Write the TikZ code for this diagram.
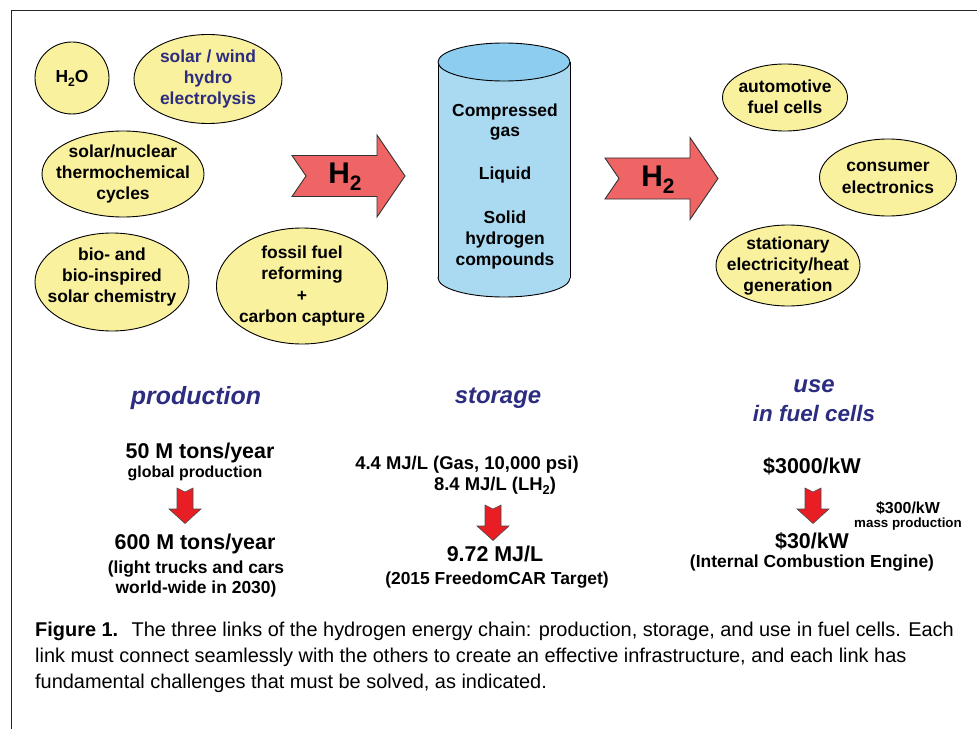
\documentclass[tikz,border=0pt]{standalone}
\usepackage{fontspec}
\setmainfont{Liberation Sans}
\usepackage{graphicx}
\usepackage{tikz}
\usepackage{xcolor}
\definecolor{blobyellow}{RGB}{249,241,158}
\definecolor{arrowsalmon}{RGB}{239,100,100}
\definecolor{arrowred}{RGB}{232,30,36}
\definecolor{tankblue}{RGB}{170,218,242}
\definecolor{tanktop}{RGB}{140,205,240}
\definecolor{linkblue}{RGB}{44,44,128}
\newcommand\lowsub[1]{\raisebox{-0.22em}{\scalebox{0.7}{#1}}}

\begin{document}
\begin{tikzpicture}
    \tikzset{
        x=1bp, y=-1bp,
        blob/.style={draw=black, fill=blobyellow, line width=0.9bp},
        blobtext/.style={align=center, inner sep=0pt,
            font=\fontsize{17.5}{21.5}\selectfont\bfseries},
        bigarrow/.style={draw=black!80, fill=arrowsalmon, line width=0.9bp},
        downarrow/.style={draw=black!70, fill=arrowred, line width=0.6bp},
        h2text/.style={inner sep=0pt, font=\fontsize{30}{34}\selectfont\bfseries},
        tanktext/.style={align=center, inner sep=0pt,
            font=\fontsize{17.5}{21}\selectfont\bfseries},
        headtext/.style={inner sep=0pt, text=linkblue,
            font=\fontsize{24}{28}\selectfont\bfseries\itshape},
        bigtext/.style={inner sep=0pt, font=\fontsize{21.5}{26}\selectfont\bfseries},
        gastext/.style={inner sep=0pt, font=\fontsize{18.5}{22}\selectfont\bfseries},
        midtext/.style={align=center, inner sep=0pt,
            font=\fontsize{17.5}{21}\selectfont\bfseries},
        smalltext/.style={inner sep=0pt, font=\fontsize{16}{19}\selectfont\bfseries},
        tinytext/.style={inner sep=0pt, font=\fontsize{13.4}{16}\selectfont\bfseries},
        captext/.style={anchor=base west, inner sep=0pt, font=\fontsize{20}{26}\selectfont}
    }
    \useasboundingbox (0,0) rectangle (977,729);
    \draw[line width=1bp, black!85] (11,729) -- (11,11) -- (977,11);

    % sources
    \draw[blob] (72,78) ellipse [x radius=37, y radius=36];
    \node[blobtext] (water) at (72,78) {H\lowsub{2}O};
    \draw[blob] (208,79) ellipse [x radius=74, y radius=44.5];
    \node[blobtext, text=linkblue] (electro) at (208,79) {solar / wind\\hydro\\electrolysis};
    \draw[blob] (123,174) ellipse [x radius=81, y radius=43];
    \node[blobtext] (thermo) at (123,174) {solar/nuclear\\thermochemical\\cycles};
    \draw[blob] (112,282) ellipse [x radius=77, y radius=49];
    \node[blobtext] (bio) at (112,277) {bio- and\\bio-inspired\\solar chemistry};
    \draw[blob] (302,286) ellipse [x radius=85.5, y radius=58];
    \node[blobtext] (fossil) at (302,286) {fossil fuel\\reforming\\+\\carbon capture};

    % uses
    \draw[blob] (785,97.5) ellipse [x radius=62.5, y radius=33.5];
    \node[blobtext] (auto) at (785,97) {automotive\\fuel cells};
    \draw[blob] (888,177.5) ellipse [x radius=68.5, y radius=38.5];
    \node[blobtext] (consumer) at (888,178) {consumer\\electronics};
    \draw[blob] (788,265.5) ellipse [x radius=72, y radius=40.5];
    \node[blobtext] (stationary) at (788,266) {stationary\\electricity/heat\\generation};

    % H2 arrows
    \draw[bigarrow] (292,155.5) -- (377,155.5) -- (377,135) -- (405,176) -- (377,217)
        -- (377,196.5) -- (292,196.5) -- (306,176) -- cycle;
    \node[h2text] (h2in) at (345,177) {H\lowsub{2}};
    \draw[bigarrow] (605,158) -- (690,158) -- (690,137.5) -- (718,178.5) -- (690,219.5)
        -- (690,199) -- (605,199) -- (619,178.5) -- cycle;
    \node[h2text] (h2out) at (658,179.5) {H\lowsub{2}};

    % tank
    \filldraw[fill=tankblue, line width=0.9bp] (504,278) ellipse [x radius=66, y radius=19];
    \fill[tankblue] (438,62) rectangle (570,278);
    \draw[line width=0.9bp] (438,62) -- (438,278) (570,62) -- (570,278);
    \filldraw[fill=tanktop, line width=0.9bp] (504,62) ellipse [x radius=66, y radius=19];
    \node[tanktext] (gas) at (505,122) {Compressed\\gas};
    \node[tanktext] (liquid) at (505,175) {Liquid};
    \node[tanktext] (solid) at (505,240) {Solid\\hydrogen\\compounds};

    % the three links
    \node[headtext, font=\fontsize{25}{28}\selectfont\bfseries\itshape] (prodhead) at (196,398) {production};
    \node[headtext] (storhead) at (498,398) {storage};
    \node[headtext] (usehead) at (814,386) {use};
    \node[headtext, font=\fontsize{22.5}{28}\selectfont\bfseries\itshape] (usehead2) at (814,413) {in fuel cells};

    \node[bigtext] (prodnow) at (200,453) {50 M tons/year};
    \node[smalltext] (prodnote) at (195,473) {global production};
    \node[bigtext] (prodgoal) at (195,544) {600 M tons/year};
    \node[midtext] (prodgoalnote) at (196,579) {(light trucks and cars\\world-wide in 2030)};

    \node[gastext] (storgas) at (467,465) {4.4 MJ/L (Gas, 10,000 psi)};
    \node[gastext] (storliq) at (495,486) {8.4 MJ/L (LH\lowsub{2})};
    \node[bigtext] (storgoal) at (495,554) {9.72 MJ/L};
    \node[midtext] (storgoalnote) at (497,580) {(2015 FreedomCAR Target)};

    \node[bigtext] (usenow) at (812,466) {\$3000/kW};
    \node[smalltext] (usemass) at (908,508) {\$300/kW};
    \node[tinytext] (usemassnote) at (908,524) {mass production};
    \node[bigtext] (usegoal) at (812,541) {\$30/kW};
    \node[midtext] (usegoalnote) at (812,563) {(Internal Combustion Engine)};

    % down arrows
    \foreach \px/\py in {185/488, 493/505, 813/488}
        \draw[downarrow] (\px,\py) ++(-8,0) -- ++(8,4) -- ++(8,-4) -- ++(0,21) -- ++(8,0)
            -- ++(-16,14.5) -- ++(-16,-14.5) -- ++(8,0) -- cycle;

    % caption
    \node[captext] (cap1) at (35,636) {\textbf{Figure 1.}\hspace{0.3em} The three links of the hydrogen energy chain: production, storage, and use in fuel cells. Each};
    \node[captext] (cap2) at (35,662) {link must connect seamlessly with the others to create an effective infrastructure, and each link has};
    \node[captext] (cap3) at (35,688) {fundamental challenges that must be solved, as indicated.};
\end{tikzpicture}
\end{document}
